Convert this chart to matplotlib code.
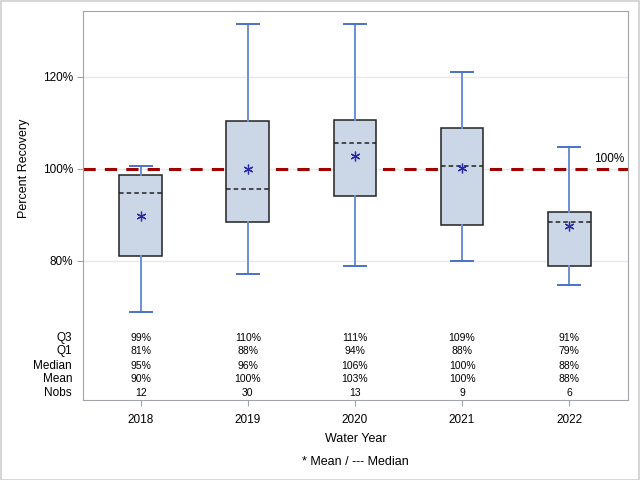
import matplotlib
matplotlib.use("Agg")
import matplotlib.pyplot as plt
import matplotlib.transforms as mtransforms
from matplotlib.patches import Rectangle

years = ["2018", "2019", "2020", "2021", "2022"]
whisk_lo = [68.9, 77.2, 78.8, 80.0, 74.7]
q1 = [81.1, 88.5, 94.1, 87.9, 78.8]
median = [94.8, 95.7, 105.7, 100.6, 88.4]
q3 = [98.6, 110.3, 110.6, 108.9, 90.7]
whisk_hi = [100.65, 131.5, 131.5, 121.0, 104.8]
mean = [89.8, 100.0, 102.8, 100.2, 87.5]

# summary table rows shown under the boxes
row_names = ["Q3", "Q1", "Median", "Mean", "Nobs"]
row_q3 = ["99%", "110%", "111%", "109%", "91%"]
row_q1 = ["81%", "88%", "94%", "88%", "79%"]
row_median = ["95%", "96%", "106%", "100%", "88%"]
row_mean = ["90%", "100%", "103%", "100%", "88%"]
row_nobs = ["12", "30", "13", "9", "6"]

plt.rcParams["font.family"] = ["Liberation Sans", "DejaVu Sans"]

fig = plt.figure(figsize=(6.4, 4.8), dpi=100)
ax = fig.add_axes([83 / 640, 80 / 480, 545 / 640, 389 / 480])

stats = []
for i in range(len(years)):
    stats.append({"whislo": whisk_lo[i], "q1": q1[i], "med": median[i],
                  "q3": q3[i], "whishi": whisk_hi[i], "mean": mean[i],
                  "fliers": [], "label": years[i]})

pos = list(range(len(years)))
ax.bxp(stats, positions=pos, widths=0.4, showmeans=True, patch_artist=True,
       boxprops=dict(facecolor="#cbd6e6", edgecolor="#222222", linewidth=1.1),
       medianprops=dict(color="#222222", linestyle=(0, (3, 2)), linewidth=1.1),
       whiskerprops=dict(color="#6a8fd2", linewidth=1.4),
       capprops=dict(color="#4a70c8", linewidth=1.4),
       capwidths=0.2,
       meanprops=dict(marker=(6, 2, 0), markersize=7, markeredgecolor="#2a2aa8",
                      markerfacecolor="#2a2aa8", markeredgewidth=0.9))

ax.axhline(100, color="#a00000", linestyle=(0, (4, 3)), linewidth=2.2, zorder=1)
ax.text(0.993, 100.9, "100%", transform=mtransforms.blended_transform_factory(ax.transAxes, ax.transData),
        ha="right", va="bottom", fontsize=8.5)

ax.set_ylim(49.8, 134.3)
ax.set_xlim(-0.54, 4.55)
ax.set_yticks([80, 100, 120])
ax.set_yticklabels(["80%", "100%", "120%"])
ax.set_xticks(pos)
ax.set_xticklabels(years)
ax.yaxis.grid(True, color="#e8e8e8", linewidth=1)
ax.set_axisbelow(True)
ax.tick_params(axis="both", labelsize=8.5, color="#a0a4a8", length=4, pad=3)
ax.tick_params(axis="x", pad=6)
for s in ax.spines.values():
    s.set_color("#a0a4a8")

ax.set_ylabel("Percent Recovery", fontsize=9)
ax.yaxis.set_label_coords(-0.098, 0.596)
ax.set_xlabel("Water Year", fontsize=9, labelpad=5)

trans = mtransforms.blended_transform_factory(ax.transData, ax.transAxes)
rows = [row_q3, row_q1, row_median, row_mean, row_nobs]
row_y = [0.159, 0.125, 0.088, 0.054, 0.017]
for name, vals, y in zip(row_names, rows, row_y):
    ax.text(-0.02, y, name, transform=ax.transAxes, ha="right", va="center", fontsize=8.5)
    for x, v in zip(pos, vals):
        ax.text(x, y, v, transform=trans, ha="center", va="center", fontsize=7.5)

fig.text(355 / 640, 1 - 462 / 480, "* Mean / --- Median", ha="center", va="center", fontsize=9)
fig.patches.append(Rectangle((0.001, 0.001), 0.997, 0.997, transform=fig.transFigure,
                             fill=False, edgecolor="#d0d0d0", linewidth=1.2))

fig.savefig("out.png", dpi=100)
